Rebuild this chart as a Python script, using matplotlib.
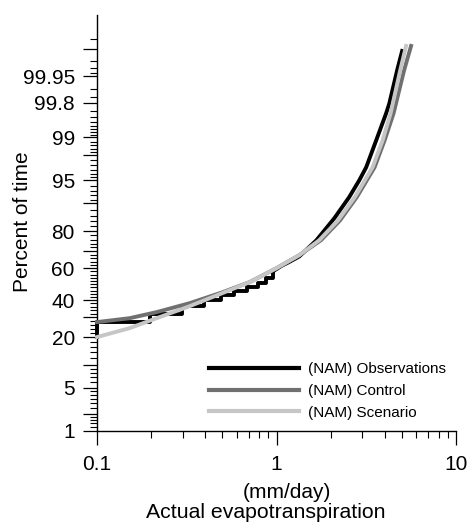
import numpy as np
import matplotlib
matplotlib.use("Agg")
import matplotlib.pyplot as plt
from statistics import NormalDist

plt.rcParams['font.family'] = ['Liberation Sans', 'DejaVu Sans']

# cumulative distribution of actual evapotranspiration (mm/day) vs percent of time
obs_x = [0.10, 0.10, 0.197, 0.297, 0.393, 0.489, 0.577, 0.681, 0.784, 0.869, 0.962, 1.07, 1.18,
         1.34, 1.67, 2.10, 2.54, 2.89, 3.16, 3.59, 4.08, 4.25, 4.70, 5.01]
obs_p = [20.1, 27.4, 31.7, 36.4, 40.0, 43.1, 45.6, 48.1, 50.6, 54.0, 58.3, 61.5, 63.8,
         67.0, 75.7, 85.2, 91.6, 95.0, 96.8, 98.86, 99.66, 99.79, 99.965, 99.989]
n_steps = 10  # observations are stepped in the low range

ctl_x = [0.10, 0.152, 0.215, 0.329, 0.50, 0.708, 1.0, 1.34, 1.77, 2.26, 2.80, 3.52, 4.00, 4.49, 5.14, 5.62]
ctl_p = [27.4, 29.5, 32.9, 38.2, 44.9, 51.3, 60.0, 67.7, 75.7, 84.4, 91.6, 96.8, 98.86, 99.66, 99.965, 99.992]

scn_x = [0.10, 0.152, 0.215, 0.329, 0.50, 0.708, 1.0, 1.34, 1.73, 2.20, 2.73, 3.43, 3.90, 4.32, 4.89, 5.27]
scn_p = [20.1, 24.3, 29.5, 36.4, 44.4, 51.3, 60.0, 67.7, 75.7, 84.4, 91.6, 96.8, 98.86, 99.66, 99.965, 99.992]

ytick_major = [1, 2, 5, 10, 20, 30, 40, 60, 70, 80, 90, 95, 98, 99, 99.8, 99.95, 99.99]
ytick_labels = {1: '1', 5: '5', 20: '20', 40: '40', 60: '60', 80: '80', 95: '95',
                99: '99', 99.8: '99.8', 99.95: '99.95'}

nd = NormalDist()
fwd = np.vectorize(lambda p: nd.inv_cdf(min(max(p / 100.0, 1e-12), 1 - 1e-12)), otypes=[float])
inv = np.vectorize(lambda z: nd.cdf(z) * 100.0, otypes=[float])

fig = plt.figure(figsize=(4.69, 5.25), dpi=100)
ax = fig.add_axes([97 / 469, 1 - 431 / 525, 359 / 469, 416 / 525])
ax.set_xscale('log')
ax.set_yscale('function', functions=(fwd, inv))

lw = 2.8
ax.plot(obs_x[:n_steps + 1], obs_p[:n_steps + 1], color='black', lw=lw, drawstyle='steps-post',
        clip_on=False, zorder=2)
ax.plot(obs_x[n_steps:], obs_p[n_steps:], color='black', lw=lw, clip_on=False, zorder=2)
ax.plot(ctl_x, ctl_p, color='#707070', lw=lw, clip_on=False, zorder=3)
ax.plot(scn_x, scn_p, color='#c6c6c6', lw=lw, clip_on=False, zorder=4)

# legend handles
ax.plot([], [], color='black', lw=3, label='(NAM) Observations')
ax.plot([], [], color='#707070', lw=3, label='(NAM) Control')
ax.plot([], [], color='#c6c6c6', lw=3, label='(NAM) Scenario')
h, l = ax.get_legend_handles_labels()
ax.legend(h[-3:], l[-3:], loc='center', bbox_to_anchor=(0.642, 0.096), frameon=False,
          fontsize=11, handlelength=5.9, handletextpad=0.55, labelspacing=0.5)

ax.set_xlim(0.1, 10)
ax.set_ylim(1, 99.999)
ax.set_xticks([0.1, 1, 10], labels=['0.1', '1', '10'])

ax.set_yticks(ytick_major, labels=[ytick_labels.get(v, '') for v in ytick_major])
minor = np.concatenate([np.arange(1.2, 2, 0.2), np.arange(2.5, 5, 0.5), np.arange(6, 10, 1),
                        np.arange(12, 90, 2), np.arange(91, 95, 1), np.arange(95.5, 98, 0.5),
                        np.arange(98.2, 99, 0.2), np.arange(99.1, 99.8, 0.1),
                        [99.85, 99.9], [99.96, 99.97, 99.98], [99.995]])
ax.set_yticks(minor, minor=True)

for s in ['top', 'right']:
    ax.spines[s].set_visible(False)
for s in ['left', 'bottom']:
    ax.spines[s].set_linewidth(1.0)

ax.tick_params(which='major', direction='out', length=10, width=0.9, labelsize=15, pad=6)
ax.tick_params(which='minor', direction='out', length=5, width=0.8)
ax.tick_params(axis='x', which='major', pad=7)

ax.set_ylabel('Percent of time', fontsize=15)
ax.yaxis.set_label_coords(-0.181, 0.504)
ax.set_xlabel('(mm/day)', fontsize=15)
ax.xaxis.set_label_coords(0.529, -0.125)
ax.text(0.471, -0.195, 'Actual evapotranspiration', transform=ax.transAxes,
        ha='center', va='center', fontsize=15.3)

fig.savefig('out.png', dpi=100)
